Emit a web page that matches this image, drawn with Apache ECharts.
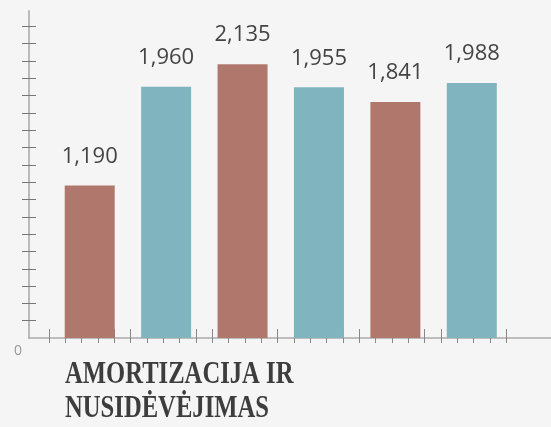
<!DOCTYPE html>
<html>
<head>
<meta charset="utf-8">
<script src="https://cdn.jsdelivr.net/npm/echarts@6/dist/echarts.min.js"></script>
<style>
  html, body { margin: 0; padding: 0; background: #f5f5f5; }
  #chart { width: 551px; height: 427px; }
</style>
</head>
<body>
<div id="chart"></div>
<script>
// data
var categories = ['1', '2', '3', '4', '5', '6'];
var values = [1190, 1960, 2135, 1955, 1841, 1988];
var yTicks = [135, 270, 405, 540, 675, 810, 945, 1080, 1215, 1350, 1485, 1620, 1755, 1890, 2025, 2160, 2295, 2430];
var yLabels = [0];
var titleText = 'AMORTIZACIJA IR\nNUSIDĖVĖJIMAS';

var colors = ['#b0786c', '#80b4bf'];

// decorative x ticks along the axis line (pixel units of the second grid)
var xTicks = [];
for (var i = 0; i < 29; i++) {
  xTicks.push(20 + i * 16.33);
}

var chart = echarts.init(document.getElementById('chart'));

var yMax = 2550;

chart.setOption({
  backgroundColor: '#f5f5f5',
  animation: false,
  // condensed serif heading under the chart
  graphic: [{
    type: 'text',
    x: 65,
    y: 358,
    scaleX: 0.77,
    style: {
      text: titleText,
      fontFamily: 'Liberation Serif',
      fontWeight: 'bold',
      fontSize: 32,
      lineHeight: 34,
      fill: '#3d3d3d'
    }
  }],
  grid: [
    { left: 51.5, right: 41, top: 11, bottom: 89 },
    { left: 29, right: 0, top: 11, bottom: 89 },
    { left: 29, right: 0, top: 11, bottom: 89 }
  ],
  xAxis: [
    {
      gridIndex: 0, type: 'category', data: categories,
      axisLine: { show: false }, axisTick: { show: false }, axisLabel: { show: false }
    },
    {
      gridIndex: 1, type: 'value', min: 0, max: 522,
      splitLine: { show: false },
      axisLine: { lineStyle: { color: '#aaaaaa', width: 1.5 } },
      axisTick: { customValues: xTicks, inside: true, length: 9, lineStyle: { color: '#888888' } },
      axisLabel: { show: false }
    },
    {
      gridIndex: 2, type: 'value', min: 0, max: 522,
      splitLine: { show: false },
      axisLine: { show: false },
      axisTick: { customValues: xTicks, length: 5, lineStyle: { color: '#888888' } },
      axisLabel: { show: false }
    }
  ],
  yAxis: [
    {
      gridIndex: 0, type: 'value', min: 0, max: yMax,
      splitLine: { show: false }, axisLine: { show: false },
      axisTick: { show: false }, axisLabel: { show: false }
    },
    {
      gridIndex: 1, type: 'value', min: 0, max: yMax,
      splitLine: { show: false },
      axisLine: { show: true, lineStyle: { color: '#bbbbbb', width: 2 } },
      axisTick: { show: true, customValues: yTicks, length: 7, lineStyle: { color: '#777777' } },
      axisLabel: {
        customValues: yLabels, margin: 7, verticalAlign: 'top', padding: [6, 0, 0, 0],
        color: '#999999', fontSize: 14, fontFamily: 'Open Sans'
      }
    },
    {
      gridIndex: 2, type: 'value', min: 0, max: yMax,
      splitLine: { show: false }, axisLine: { show: false },
      axisTick: { show: true, customValues: yTicks, inside: true, length: 7, lineStyle: { color: '#777777' } },
      axisLabel: { show: false }
    }
  ],
  series: [{
    type: 'bar',
    xAxisIndex: 0,
    yAxisIndex: 0,
    data: values,
    barWidth: 50,
    itemStyle: {
      color: function (p) { return colors[p.dataIndex % 2]; }
    },
    label: {
      show: true,
      position: 'top',
      distance: 18,
      color: '#444444',
      fontFamily: 'Open Sans',
      fontSize: 22,
      formatter: function (p) { return p.value.toLocaleString('en-US'); }
    }
  }]
});
</script>
</body>
</html>
